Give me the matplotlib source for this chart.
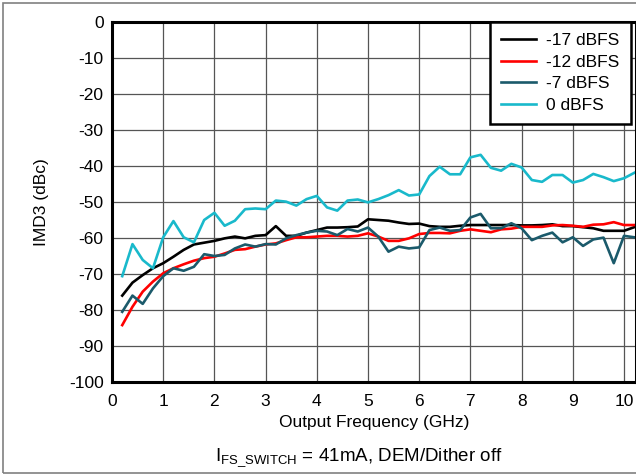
import numpy as np
import matplotlib
matplotlib.use("Agg")
import matplotlib.pyplot as plt
from matplotlib.patches import Rectangle

plt.rcParams['font.family'] = ['Liberation Sans', 'DejaVu Sans']
plt.rcParams['mathtext.fontset'] = 'custom'
plt.rcParams['mathtext.rm'] = 'Liberation Sans'
plt.rcParams['axes.unicode_minus'] = False

# output frequency (GHz), one point every 0.2 GHz
freq = np.round(np.arange(1, 52) * 0.2, 1)

imd_m17 = [-76, -72.4, -70.3, -68.4, -67, -65.2, -63.3, -61.8, -61.3, -60.8,
           -60.1, -59.6, -60.1, -59.4, -59.2, -56.7, -59.4, -59.4, -58.5, -57.8,
           -57.1, -57.1, -57, -56.8, -54.8, -55, -55.2, -55.7, -56.1, -56,
           -56.7, -56.9, -56.9, -56.6, -56.4, -56.4, -56.4, -56.4, -56.4, -56.5,
           -56.5, -56.4, -56.2, -56.7, -56.7, -57, -57.3, -58, -58, -58, -57]
imd_m12 = [-84.2, -79.1, -74.9, -72.1, -69.8, -68.4, -67.3, -66.3, -65.6, -65.2,
           -64.3, -63.3, -63.1, -62.4, -61.8, -61.5, -60.6, -59.8, -59.8, -59.6,
           -59.4, -59.4, -59.6, -59.4, -58.7, -59.6, -60.8, -60.8, -60.1, -58.9,
           -58.6, -58.6, -58.7, -58, -57.6, -58, -58.4, -57.6, -57.4, -56.9,
           -56.9, -56.9, -56.5, -56.4, -56.6, -56.9, -56.3, -56.2, -55.6, -56.4, -56.4]
imd_m7 = [-80.5, -76, -78.3, -74, -70.6, -68.4, -69.1, -68, -64.5, -65,
          -64.7, -62.9, -61.8, -62.4, -61.7, -61.8, -60.1, -59.2, -58.5, -58,
          -58.2, -59.2, -57.5, -58.2, -57.1, -59.6, -63.8, -62.4, -62.9, -62.6,
          -57.8, -57.1, -58, -57.8, -54.3, -53.3, -57.3, -57.3, -55.9, -57.3,
          -60.6, -59.4, -58.5, -61.2, -59.8, -62.2, -60.4, -59.9, -67, -59.4, -59.8]
imd_0 = [-70.6, -61.7, -66.1, -68.4, -59.8, -55.3, -59.8, -61.2, -55, -53,
         -56.6, -55.2, -52, -51.8, -52, -49.6, -49.9, -51, -49.2, -48.3,
         -51.5, -52.4, -49.6, -49.3, -50.1, -49.2, -48.1, -46.7, -48.2, -47.9,
         -42.8, -40.2, -42.3, -42.3, -37.6, -36.9, -40.5, -41.3, -39.4, -40.4,
         -43.9, -44.4, -42.5, -42.5, -44.6, -43.9, -42.2, -43.1, -44.2, -43.4, -41.9]

labels = ['-17 dBFS', '-12 dBFS', '-7 dBFS', '0 dBFS']
colors = ['#000000', '#ff0000', '#1b5a6b', '#19b9cb']

fig = plt.figure(figsize=(6.36, 4.75), dpi=100)
ax = fig.add_axes([112 / 636, 93 / 475, 1 - 112 / 636, 360 / 475])

for y, lab, c in zip([imd_m17, imd_m12, imd_m7, imd_0], labels, colors):
    ax.plot(freq, y, color=c, lw=1.9, label=lab)

ax.set_xlim(0, 524 / 51.2)
ax.set_ylim(-100, 0)
ax.set_xticks(range(0, 11))
ax.set_yticks(range(-100, 1, 10))
ax.grid(True, color='#555555', lw=0.9)
ax.tick_params(length=0, labelsize=12.5)
ax.tick_params(axis='x', pad=9)
ax.tick_params(axis='y', pad=6)
for s in ax.spines.values():
    s.set_linewidth(2.2)

ax.set_xlabel('Output Frequency (GHz)', fontsize=12.5, labelpad=4)
ax.set_ylabel('IMD3 (dBc)', fontsize=12.5, labelpad=14)

leg = ax.legend(loc='upper left', bbox_to_anchor=((490 - 112) / 524, 1.0),
                borderaxespad=0, fontsize=12.5, fancybox=False, framealpha=1,
                handlelength=2.0, handletextpad=0.6, labelspacing=0.36,
                borderpad=0.65)
leg.get_frame().set_edgecolor('black')
leg.get_frame().set_linewidth(1.8)

fig.text(359 / 636, 1 - 458 / 475,
         r'I$_{\mathrm{FS\_SWITCH}}$ = 41mA, DEM/Dither off',
         ha='center', va='center', fontsize=13.5)

fig.patches.append(Rectangle((3 / 636, 2 / 475), 1.2, 470 / 475,
                             transform=fig.transFigure, fill=False,
                             edgecolor='#808080', lw=1.2))

fig.savefig('out.png', dpi=100)
